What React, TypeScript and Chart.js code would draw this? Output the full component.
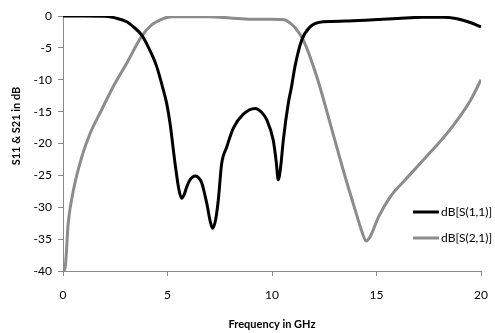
import React, { useEffect, useRef } from "react";
import { Chart, registerables } from "chart.js";

Chart.register(...registerables);

const s11Freq = [0, 1, 2, 2.5, 3.05, 3.4, 3.77, 4.1, 4.48, 4.8, 4.96, 5.12, 5.36, 5.55, 5.68, 5.8, 5.92, 6.1, 6.32, 6.5, 6.64, 6.88, 7.05, 7.16, 7.3, 7.43, 7.59, 7.83, 8.15, 8.63, 9.19, 9.5, 9.75, 10.06, 10.2, 10.3, 10.42, 10.54, 10.78, 10.94, 11.1, 11.42, 11.82, 12.45, 13.5, 14.85, 16, 17.2, 18.2, 18.8, 19.55, 20];
const s11Db = [0, 0, -0.05, -0.3, -0.9, -1.8, -3.0, -5.0, -7.9, -11.6, -13.7, -16.8, -23.1, -27.3, -28.6, -28.0, -26.8, -25.6, -25.1, -25.4, -26.2, -29.4, -32.3, -33.3, -32.0, -28.9, -23.2, -20.6, -17.6, -15.4, -14.5, -15.1, -16.3, -19.5, -22.8, -25.7, -23.5, -19.5, -13.7, -11.0, -7.9, -3.8, -1.7, -0.9, -0.8, -0.6, -0.4, -0.2, -0.2, -0.4, -1.1, -1.7];

const s21Freq = [0, 0.1, 0.25, 0.5, 0.9, 1.3, 1.85, 2.4, 3.05, 3.76, 4.24, 4.8, 5.2, 7, 8, 9, 10, 10.6, 10.86, 11.1, 11.5, 12.14, 12.78, 13.41, 14.05, 14.3, 14.5, 14.7, 15.1, 15.65, 16.4, 17.24, 18.5, 19.5, 20];
const s21Db = [-40, -39.5, -32.5, -27.3, -22.1, -18.4, -14.7, -11.1, -7.4, -3.2, -1.4, -0.4, -0.1, -0.1, -0.3, -0.5, -0.5, -0.6, -1.1, -1.8, -3.8, -9.5, -16.8, -24.2, -31.2, -33.8, -35.3, -34.6, -31.5, -28.4, -25.6, -22.6, -17.9, -13.2, -10];

const seriesLabels = ["dB[S(1,1)]", "dB[S(2,1)]"];
const seriesColors = ["#000000", "#8c8c8c"];
const xTitle = "Frequency in GHz";
const yTitle = "S11 & S21 in dB";

const FONT = "Lato, 'Liberation Sans', sans-serif";

const customPlugin = {
  id: "custom",
  afterDraw(chart: any) {
    const ctx = chart.ctx;
    const ca = chart.chartArea;
    ctx.save();
    // legend
    const rows = [ca.top + 196, ca.top + 222];
    chart.data.datasets.forEach((ds: any, i: number) => {
      const y = rows[i];
      ctx.strokeStyle = ds.borderColor;
      ctx.lineWidth = 3;
      ctx.beginPath();
      ctx.moveTo(ca.right - 68, y);
      ctx.lineTo(ca.right - 42, y);
      ctx.stroke();
      ctx.fillStyle = "#000";
      ctx.font = "12px " + FONT;
      ctx.textAlign = "left";
      ctx.textBaseline = "middle";
      ctx.fillText(ds.label, ca.right - 40, y);
    });
    // axis titles
    ctx.font = "bold 11px " + FONT;
    ctx.fillStyle = "#000";
    ctx.textAlign = "center";
    ctx.textBaseline = "middle";
    ctx.fillText(xTitle, (ca.left + ca.right) / 2, 324);
    ctx.translate(16, 126);
    ctx.rotate(-Math.PI / 2);
    ctx.fillText(yTitle, 0, 0);
    ctx.restore();
  },
};

export default function App() {
  const ref = useRef<HTMLCanvasElement>(null);
  useEffect(() => {
    if (!ref.current) return;
    const mk = (xs: number[], ys: number[]) => xs.map((x, i) => ({ x, y: ys[i] }));
    const chart = new Chart(ref.current, {
      type: "line",
      data: {
        datasets: [
          {
            label: seriesLabels[0],
            data: mk(s11Freq, s11Db),
            borderColor: seriesColors[0],
            backgroundColor: seriesColors[0],
            borderWidth: 3,
            pointRadius: 0,
            cubicInterpolationMode: "monotone",
          },
          {
            label: seriesLabels[1],
            data: mk(s21Freq, s21Db),
            borderColor: seriesColors[1],
            backgroundColor: seriesColors[1],
            borderWidth: 3,
            pointRadius: 0,
            cubicInterpolationMode: "monotone",
          },
        ],
      },
      options: {
        animation: false,
        responsive: false,
        maintainAspectRatio: false,
        layout: { padding: { left: 0, top: 16, right: 14, bottom: 0 } },
        plugins: { legend: { display: false }, tooltip: { enabled: false } },
        scales: {
          x: {
            type: "linear",
            min: 0,
            max: 20,
            afterFit: (s: any) => { s.height = 62; s.paddingRight = 0; s.paddingLeft = 0; },
            ticks: { stepSize: 5, padding: 12, color: "#000", font: { size: 12, family: FONT } },
            grid: { display: true, drawOnChartArea: false, drawTicks: true, tickLength: 5, color: "#8a8a8a" },
            border: { display: true, color: "#8a8a8a" },
          },
          y: {
            min: -40,
            max: 0,
            afterFit: (s: any) => { s.width = 63; s.paddingTop = 0; s.paddingBottom = 0; },
            ticks: { stepSize: 5, padding: 6, color: "#000", font: { size: 12, family: FONT } },
            grid: { display: true, drawOnChartArea: false, drawTicks: true, tickLength: 5, color: "#8a8a8a" },
            border: { display: true, color: "#8a8a8a" },
          },
        },
      },
      plugins: [customPlugin],
    });
    return () => chart.destroy();
  }, []);
  return (
    <div style={{ position: "fixed", left: 0, top: 0, width: 495, height: 333, background: "#fff" }}>
      <canvas ref={ref} width={495} height={333} style={{ width: 495, height: 333, display: "block" }} />
    </div>
  );
}
